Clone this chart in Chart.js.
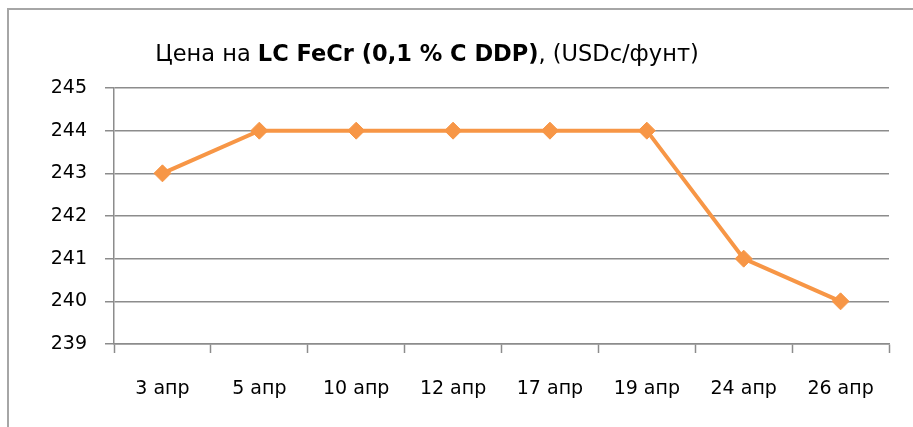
<!DOCTYPE html>
<html lang="ru">
<head>
  <meta charset="UTF-8">
  <title>Цена на LC FeCr</title>
  <script src="https://cdn.jsdelivr.net/npm/chart.js"></script>
  <style>
    html, body { margin: 0; padding: 0; background: #fff; }
    #wrap { width: 913px; height: 427px; }
  </style>
</head>
<body>
  <div id="wrap"><canvas id="priceChart" width="913" height="427"></canvas></div>

  <script>
    // data
    const dates = ['3 апр', '5 апр', '10 апр', '12 апр', '17 апр', '19 апр', '24 апр', '26 апр'];
    const prices = [243, 244, 244, 244, 244, 244, 241, 240];
    const yTicks = [239, 240, 241, 242, 243, 244, 245];

    const titleParts = [
      { text: 'Цена на ', bold: false },
      { text: 'LC FeCr (0,1 % C DDP)', bold: true },
      { text: ', (USDc/фунт)', bold: false }
    ];

    const fontFamily = '"DejaVu Sans", sans-serif';
    const gridColor = '#8c8c8c';

    // frame round the chart plus the mixed-weight title
    const decor = {
      id: 'decor',
      beforeDraw(chart) {
        const c = chart.ctx;
        c.save();
        c.fillStyle = '#fff';
        c.fillRect(0, 0, chart.width, chart.height);
        c.strokeStyle = '#a6a6a6';
        c.lineWidth = 2;
        c.strokeRect(8, 9, chart.width + 20, chart.height + 20);
        c.restore();
      },
      afterDraw(chart) {
        const c = chart.ctx;
        c.save();
        c.fillStyle = '#000';
        c.textBaseline = 'middle';
        const size = 22.5;
        let widths = titleParts.map(p => {
          c.font = (p.bold ? 'bold ' : '') + size + 'px ' + fontFamily;
          return c.measureText(p.text).width;
        });
        let total = widths.reduce((a, b) => a + b, 0);
        let x = 427 - total / 2;
        titleParts.forEach((p, i) => {
          c.font = (p.bold ? 'bold ' : '') + size + 'px ' + fontFamily;
          c.fillText(p.text, x, 55);
          x += widths[i];
        });
        c.restore();
      }
    };

    const ctx = document.getElementById('priceChart').getContext('2d');
    const priceChart = new Chart(ctx, {
      type: 'line',
      data: {
        labels: dates,
        datasets: [{
          data: prices,
          borderColor: '#f79646',
          backgroundColor: '#f79646',
          borderWidth: 4,
          pointStyle: 'rectRot',
          pointRadius: 8.5,
          pointBorderWidth: 1,
          tension: 0
        }]
      },
      options: {
        responsive: false,
        animation: false,
        layout: { padding: { top: 88, right: 24, bottom: 0, left: 0 } },
        scales: {
          x: {
            offset: true,
            grid: {
              offset: true,
              drawOnChartArea: false,
              color: gridColor,
              tickLength: 9,
              tickWidth: 1.5
            },
            border: { color: gridColor, width: 1.5 },
            ticks: {
              color: '#000',
              padding: 25,
              maxRotation: 0,
              font: { family: fontFamily, size: 19 }
            },
            afterFit(scale) { scale.height = 83; }
          },
          y: {
            min: 239,
            max: 245,
            afterBuildTicks(scale) {
              scale.ticks = yTicks.map(v => ({ value: v }));
            },
            grid: {
              color: gridColor,
              lineWidth: 1.5,
              tickLength: 9
            },
            border: { color: gridColor, width: 1.5 },
            ticks: {
              color: '#000',
              padding: 18,
              font: { family: fontFamily, size: 19 }
            },
            afterFit(scale) { scale.width = 114; }
          }
        },
        plugins: {
          legend: { display: false },
          title: { display: false },
          tooltip: { enabled: false }
        }
      },
      plugins: [decor]
    });
  </script>
</body>
</html>
